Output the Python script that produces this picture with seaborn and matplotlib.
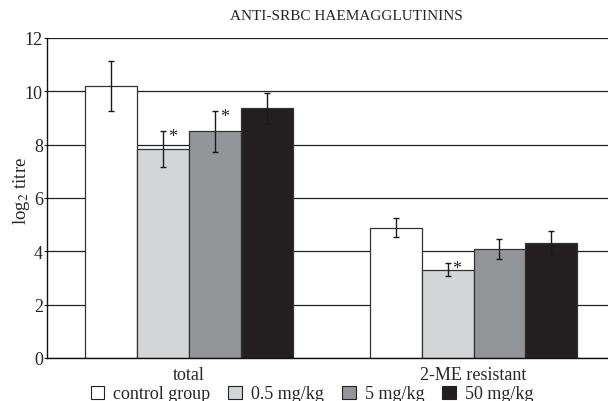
import matplotlib
matplotlib.use("Agg")
import matplotlib.pyplot as plt
import matplotlib.patches as mpatches
import seaborn as sns
import pandas as pd

categories = ["total", "2-ME resistant"]
groups = ["control group", "0.5 mg/kg", "5 mg/kg", "50 mg/kg"]
means_total = [10.2, 7.85, 8.5, 9.36]
err_total = [0.95, 0.68, 0.78, 0.58]
means_me = [4.89, 3.31, 4.10, 4.32]
err_me = [0.37, 0.25, 0.38, 0.43]
sig_total = [False, True, True, False]
sig_me = [False, True, False, False]
colors = ["#ffffff", "#d4d5d7", "#939598", "#231f20"]
yticks = [0, 2, 4, 6, 8, 10, 12]
title = "ANTI-SRBC HAEMAGGLUTININS"

sns.set_theme(style="white")
plt.rcParams["font.family"] = ["Liberation Serif", "DejaVu Serif"]
plt.rcParams["mathtext.fontset"] = "stix"

rows = []
for g, mt, mm in zip(groups, means_total, means_me):
    rows.append({"cat": categories[0], "group": g, "val": mt})
    rows.append({"cat": categories[1], "group": g, "val": mm})
df = pd.DataFrame(rows)

fig = plt.figure(figsize=(6.08, 4.02), dpi=100)
ax = fig.add_axes([0.0773, 0.107, 0.9227, 0.796])
ax.set_axisbelow(True)
ax.yaxis.grid(True, color="#222222", linewidth=0.9)

sns.barplot(data=df, x="cat", y="val", hue="group", order=categories,
            hue_order=groups, palette=colors, width=0.73, errorbar=None,
            edgecolor="#333333", linewidth=0.9, saturation=1, legend=False, ax=ax)

errs = [[err_total[i], err_me[i]] for i in range(len(groups))]
sigs = [[sig_total[i], sig_me[i]] for i in range(len(groups))]
bar_conts = list(ax.containers)
for i, cont in enumerate(bar_conts):
    for j, bar in enumerate(cont.patches):
        xc = bar.get_x() + bar.get_width() / 2
        h = bar.get_height()
        e = errs[i][j]
        ax.errorbar(xc, h, yerr=e, fmt="none", ecolor="#1a1a1a",
                    elinewidth=1.0, capsize=2.5, capthick=1.0, zorder=5)
        if sigs[i][j]:
            ax.annotate("*", (xc, h + e), xytext=(3.5, -4), textcoords="offset points",
                        ha="left", va="center", fontsize=13, color="#222222")

ax.set_ylim(0, 12)
ax.set_xlim(-0.5, 1.473)
ax.set_yticks(yticks)
ax.set_yticklabels([str(t) for t in yticks], fontsize=13)
ax.set_xticks([0, 1])
ax.set_xticklabels(categories, fontsize=13)
ax.set_xticks([-0.5, 0.5], minor=True)
ax.tick_params(axis="x", which="major", length=0, pad=5.5)
ax.tick_params(axis="x", which="minor", length=4, width=0.8, color="#222222", direction="out")
ax.tick_params(axis="y", length=2, width=0.8, pad=1, left=True, color="#222222")
ax.set_xlabel("")
ax.set_ylabel(r"log$_2$ titre", fontsize=13.5)
ax.yaxis.set_label_coords(-0.027, 0.525)
for s in ["top", "right"]:
    ax.spines[s].set_visible(False)
for s in ["left", "bottom"]:
    ax.spines[s].set_color("#111111")
    ax.spines[s].set_linewidth(1.0)

fig.text(346 / 608, 1 - 17 / 402, title, ha="center", va="center", fontsize=11)

handles = [mpatches.Patch(facecolor=c, edgecolor="#222222", linewidth=0.8, label=g)
           for c, g in zip(colors, groups)]
fig.legend(handles=handles, loc="center", bbox_to_anchor=(312 / 608, 1 - 395 / 402),
           ncol=4, frameon=False, fontsize=13, handlelength=0.75, handleheight=0.75,
           handletextpad=0.5, columnspacing=1.0, borderpad=0)

fig.savefig("out.png", dpi=100)
